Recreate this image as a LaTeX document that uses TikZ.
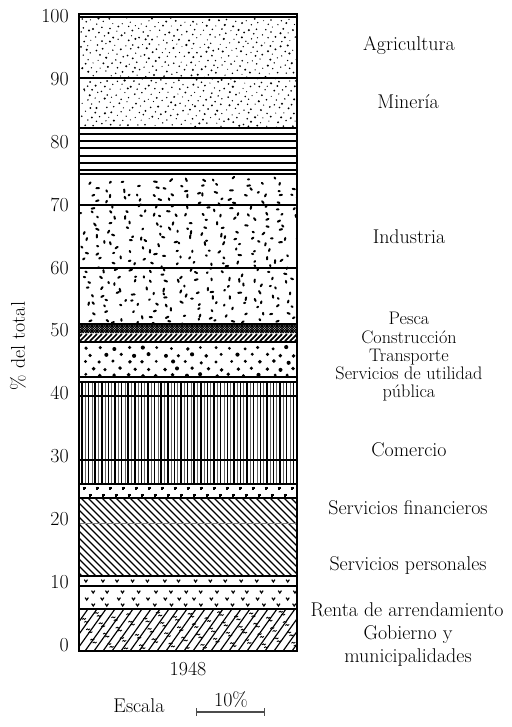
\documentclass[tikz,border=0pt]{standalone}
\usepackage{fontspec}
\begin{document}
\begin{tikzpicture}[x=0.03cm,y=-0.03cm,
    lab/.style={font=\fontsize{17}{14.5}\selectfont, inner sep=0pt},
    stack/.style={font=\fontsize{15.5}{15.6}\selectfont, inner sep=0pt, align=center},
    sep/.style={line width=1.1pt},
    hatch/.style={line width=1pt}]
    \useasboundingbox (0,0) rectangle (512,727);
    \pgfmathsetseed{7}

    % 农业、矿业 (细点)
    \begin{scope}
        \clip (80,17) rectangle (296,128);
        \foreach \i in {1,...,620}
            \fill ({80+216*frac(0.5+\i*0.7548777)+2*rnd},{17+111*frac(0.5+\i*0.5698403)+2*rnd}) circle[radius={0.45pt+0.55pt*rnd}];
    \end{scope}

    % 横线带
    \foreach \y in {128,134,141,148,156,163,170,174}
        \draw[line width=1.2pt] (79,\y) -- (297,\y);

    % 工业 (短划)
    \begin{scope}
        \clip (80,175) rectangle (296,324);
        \foreach \i in {1,...,330}
            \draw[line width=1.7pt, line cap=round] ({80+216*frac(0.3+\i*0.7548777)+4*rnd},{176+147*frac(0.3+\i*0.5698403)+4*rnd}) -- ++({360*rnd}:{0.8pt+1.8pt*rnd});
    \end{scope}

    % 渔业、建筑
    \begin{scope}
        \clip (79,324) rectangle (297,342);
        \foreach \x in {60,62.5,...,300} {
            \draw[line width=0.7pt] (\x,333) -- (\x+9,324);
            \draw[line width=0.7pt] (\x,324) -- (\x+9,333);
        }
        \foreach \x in {70,75,...,300}
            \draw[line width=1.5pt] (\x,341) -- (\x+7,334);
    \end{scope}

    % 运输 (圆点)
    \begin{scope}
        \clip (79,342) rectangle (297,377);
        \foreach \r/\y in {0/347,1/354,2/361,3/368,4/374}
            \foreach \x in {0,...,14}
                \fill ({83+14.5*\x+7*mod(\r,2)+4*rnd},{\y+2*rnd}) circle[radius={1.3pt+0.5pt*rnd}];
    \end{scope}

    % 商业 (竖线)
    \foreach \x in {82,88.6,...,296} {
        \draw[line width=1.2pt] (\x,382) -- (\x,484);
        \draw[line width=0.6pt, black!60] (\x+3.3,382) -- (\x+3.3,484);
    }
    \draw[sep] (79,396) -- (297,396);
    \draw[sep] (79,460) -- (297,460);

    % 十字点
    \begin{scope}
        \clip (79,484) rectangle (297,498);
        \foreach \x in {0,...,16} {
            \draw[line width=1pt] ({84+13*\x},486.5) -- ++(0,3) ({82.5+13*\x},488) -- ++(3,0);
            \draw[line width=1pt] ({90+13*\x},493.5) -- ++(0,3) ({88.5+13*\x},495) -- ++(3,0);
        }
    \end{scope}

    % 金融、个人服务 (斜线)
    \begin{scope}
        \clip (79,498) rectangle (297,576);
        \foreach \x in {-80,-73,...,300}
            \draw[hatch] (\x,498) -- (\x+78,576);
    \end{scope}
    \draw[line width=0.6pt, gray] (79,523) -- (297,523);

    % 租金 (v 记号)
    \foreach \r/\y in {0/581,1/592,2/599,3/605}
        \foreach \x in {0,...,13}
            \draw[line width=1pt] ({85+15.5*\x+6*mod(\r,2)+3*rnd-1.6},\y-1.4) -- ++(1.6,2.4) -- ++(1.6,-2.4);

    % 政府 (斜线加小记号)
    \begin{scope}
        \clip (79,609) rectangle (297,651);
        \foreach \x in {40,49,...,300}
            \draw[hatch] (\x,651) -- (\x+30,609);
        \foreach \i in {1,...,100}
            \draw[line width=0.7pt] ({80+216*frac(\i*0.7548777)},{612+37*frac(\i*0.5698403)}) -- ++(1.5,-1) -- ++(1,1) -- ++(1.5,-1);
    \end{scope}

    % 分隔线
    \foreach \y in {78,205,268,324,342,377,382,484,498,576,586,609}
        \draw[sep] (79,\y) -- (297,\y);
    \draw[sep] (79,17) -- (297,17);
    \draw[line width=1.3pt] (79,14) rectangle (297,651);

    % 纵轴
    \foreach \v in {0,10,...,100}
        \node[lab, anchor=east] (t\v) at (69,{645-6.29*\v}) {\v};
    \node[lab, rotate=90] (ylab) at (18,346) {\% del total};
    \node[lab] (year) at (188,669) {1948};

    % 各部门名称
    \node[lab] (agri) at (409,45) {Agricultura};
    \node[lab] (mine) at (408,102) {Minería};
    \node[lab] (indu) at (409,237) {Industria};
    \node[stack] (pesc) at (409,357) {Pesca\\Construcción\\Transporte\\Servicios de utilidad\\pública};
    \node[lab] (come) at (409,450) {Comercio};
    \node[lab] (fina) at (408,508) {Servicios financieros};
    \node[lab] (pers) at (408,565) {Servicios personales};
    \node[lab] (rent) at (407,610) {Renta de arrendamiento};
    \node[lab, align=center] (gobi) at (408,646) {Gobierno y\\[3pt]municipalidades};

    % 比例尺
    \node[lab] (esc) at (139,706) {Escala};
    \coordinate (e0) at (196,712);
    \coordinate (e1) at (265,712);
    \draw[|-|, line width=0.9pt, black!70] (e0) -- (e1);
    \node[lab] (diez) at (231,700) {10\%};
\end{tikzpicture}
\end{document}
